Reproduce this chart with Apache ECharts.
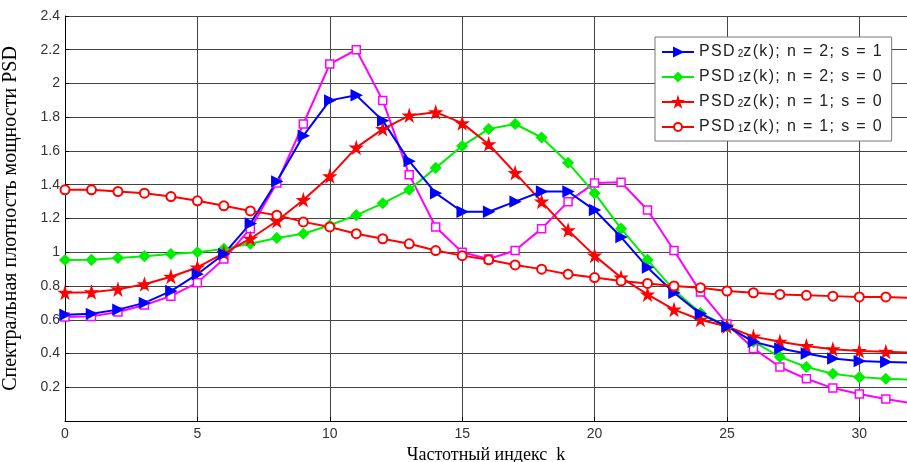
<!DOCTYPE html>
<html lang="ru">
<head>
    <meta charset="UTF-8">
    <title>PSD</title>
    <script src="https://cdn.jsdelivr.net/npm/echarts@6/dist/echarts.min.js"></script>
    <style>
        * { margin: 0; padding: 0; box-sizing: border-box; }
        body { background: #fff; }
        #chart { width: 907px; height: 462px; }
    </style>
</head>
<body>
    <div id="chart"></div>
    <script>
        // частотный индекс k = 0..32
        const kValues = [0,1,2,3,4,5,6,7,8,9,10,11,12,13,14,15,16,17,18,19,20,21,22,23,24,25,26,27,28,29,30,31,32];

        const psd2zN2S1 = [0.63,0.635,0.66,0.70,0.77,0.87,0.99,1.17,1.42,1.69,1.90,1.93,1.78,1.54,1.35,1.24,1.24,1.30,1.36,1.36,1.25,1.09,0.91,0.76,0.635,0.56,0.47,0.43,0.40,0.37,0.355,0.35,0.345];
        const psd1zN2S0 = [0.954,0.955,0.966,0.977,0.99,1.0,1.02,1.05,1.085,1.11,1.16,1.22,1.29,1.37,1.50,1.63,1.73,1.76,1.68,1.53,1.35,1.14,0.955,0.776,0.64,0.56,0.47,0.38,0.32,0.28,0.26,0.25,0.245];
        const psd2zN1S0 = [0.76,0.763,0.78,0.81,0.855,0.91,0.995,1.08,1.185,1.31,1.45,1.62,1.73,1.81,1.83,1.765,1.64,1.47,1.30,1.13,0.98,0.85,0.75,0.66,0.60,0.56,0.50,0.47,0.445,0.425,0.415,0.41,0.405];
        const psd1zN1S0 = [1.37,1.37,1.36,1.35,1.33,1.305,1.275,1.245,1.22,1.18,1.15,1.11,1.08,1.05,1.01,0.98,0.955,0.925,0.90,0.87,0.85,0.83,0.815,0.80,0.79,0.77,0.76,0.75,0.745,0.74,0.735,0.735,0.73];
        const psdMagenta = [0.616,0.62,0.646,0.687,0.74,0.82,0.96,1.14,1.41,1.76,2.115,2.2,1.9,1.46,1.15,1.0,0.96,1.01,1.14,1.30,1.41,1.415,1.25,1.01,0.765,0.575,0.43,0.32,0.25,0.195,0.16,0.13,0.105];

        const legendNames = ['PSD2z(k); n = 2; s = 1', 'PSD1z(k); n = 2; s = 0', 'PSD2z(k); n = 1; s = 0', 'PSD1z(k); n = 1; s = 0'];

        const starPath = 'path://M50,0 L61,35 L98,35 L68,57 L79,91 L50,70 L21,91 L32,57 L2,35 L39,35 Z';

        function pairs(arr) {
            return arr.map(function (v, i) { return [kValues[i], v]; });
        }

        function makeSeries(name, data, color, symbol, opts) {
            return Object.assign({
                name: name,
                type: 'line',
                data: pairs(data),
                symbol: symbol,
                symbolSize: 9,
                lineStyle: { color: color, width: 2 },
                itemStyle: { color: color, borderColor: color, borderWidth: 1.5 },
                animation: false
            }, opts || {});
        }

        // разрядка текста легенды
        function spaced(s) {
            return s.split('').join('\u200A');
        }

        const chart = echarts.init(document.getElementById('chart'));
        chart.setOption({
            backgroundColor: '#fff',
            grid: { left: 65, top: 16, right: 0, bottom: 41, outerBoundsMode: 'none' },
            xAxis: {
                type: 'value',
                min: 0,
                max: 31.8,
                interval: 5,
                name: 'Частотный индекс  k',
                nameLocation: 'middle',
                nameGap: 20,
                nameTextStyle: { fontFamily: 'Liberation Serif', fontSize: 18, color: '#000' },
                axisLine: { lineStyle: { color: '#000', width: 1 } },
                axisTick: { inside: true, length: 4, lineStyle: { color: '#000' } },
                axisLabel: { fontFamily: 'Liberation Sans', fontSize: 14, color: '#333', showMaxLabel: false, margin: 6 },
                splitLine: { show: true, lineStyle: { color: '#444', width: 1 } }
            },
            yAxis: {
                type: 'value',
                min: 0,
                max: 2.4,
                interval: 0.2,
                name: 'Спектральная плотность мощности PSD',
                nameLocation: 'middle',
                nameGap: 44,
                nameTextStyle: { fontFamily: 'Liberation Serif', fontSize: 20, color: '#000' },
                axisLine: { show: true, lineStyle: { color: '#000', width: 1 } },
                axisTick: { inside: true, length: 4, lineStyle: { color: '#000' } },
                axisLabel: {
                    fontFamily: 'Liberation Sans', fontSize: 14, color: '#333', showMinLabel: false, margin: 5,
                    formatter: function (v) { return String(Math.round(v * 10) / 10); }
                },
                splitLine: { show: true, lineStyle: { color: '#444', width: 1 } }
            },
            legend: {
                data: legendNames,
                orient: 'vertical',
                left: 655,
                top: 37,
                padding: [7, 10, 6, 6],
                itemGap: 9,
                itemWidth: 32,
                itemHeight: 10,
                backgroundColor: '#fff',
                borderColor: '#777',
                borderWidth: 1,
                borderRadius: 0,
                formatter: function (name) {
                    return '{a|' + spaced('PSD') + '\u2009}{b|' + name.charAt(3) + '}{a|' + spaced(name.slice(4)) + '}';
                },
                textStyle: {
                    rich: {
                        a: { fontFamily: 'Liberation Sans', fontSize: 16, color: '#222' },
                        b: { fontFamily: 'Liberation Sans', fontSize: 10, color: '#222', padding: [5, 0, 0, 0] }
                    }
                }
            },
            series: [
                makeSeries('PSD', psdMagenta, '#ff00ff', 'rect', {
                    symbolSize: 8,
                    itemStyle: { color: '#fff', borderColor: '#ff00ff', borderWidth: 1.5 }
                }),
                makeSeries(legendNames[1], psd1zN2S0, '#00ee00', 'diamond', { symbolSize: 10 }),
                makeSeries(legendNames[2], psd2zN1S0, '#ff0000', starPath, { symbolSize: 11 }),
                makeSeries(legendNames[0], psd2zN2S1, '#0000ff', 'triangle', {
                    symbolRotate: -90,
                    symbolSize: 10
                }),
                makeSeries(legendNames[3], psd1zN1S0, '#ff0000', 'emptyCircle', {
                    symbolSize: 9,
                    itemStyle: { color: '#ff0000', borderWidth: 1.5 }
                })
            ]
        });
    </script>
</body>
</html>
